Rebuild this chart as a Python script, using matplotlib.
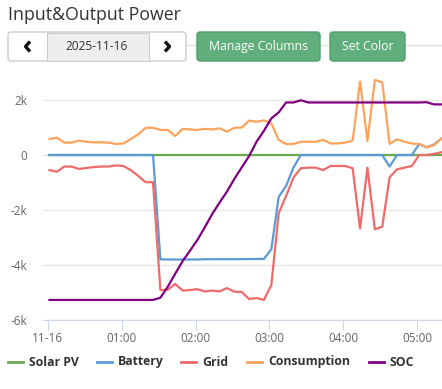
import numpy as np
import matplotlib
matplotlib.use("Agg")
from matplotlib import pyplot as plt
from matplotlib.patches import FancyBboxPatch, Rectangle

plt.rcParams["font.family"] = ["Open Sans", "DejaVu Sans"]

# sample times in minutes after midnight (one reading every 6 min)
minutes = np.arange(54) * 6 + 1.5

solar_pv = [0] * 54
battery = [0, 0, 0, 0, 0, 0, 0, 0, 0, 0, 0, 0, 0, 0, 0,
           -3790, -3800, -3800, -3800, -3800, -3800, -3790, -3790, -3790, -3790,
           -3790, -3785, -3785, -3780, -3780,
           -3430, -1520, -1130, -450, 0, 0, 0, 0, 0, 0, 0, 0, 0, 0, 0, 0,
           -420, 0, 0, 0, 400, 280, 380, 600]
grid = [-550, -610, -420, -420, -510, -470, -440, -420, -420, -380, -400, -550, -760, -990, -990,
        -4910, -4900, -4690, -4930, -4910, -4880, -4960, -4930, -4960, -4840, -4970, -4980,
        -5240, -5200, -5270,
        -4730, -2120, -1490, -820, -480, -460, -460, -550, -400, -400, -400, -480,
        -2670, -460, -2700, -2610, -810, -520, -460, -400, 0, 0, 40, 100]
consumption = [580, 630, 450, 450, 520, 480, 460, 460, 450, 400, 420, 580, 750, 990, 990,
               910, 910, 690, 950, 930, 910, 950, 930, 970, 850, 990, 1000, 1250, 1210, 1260,
               1150, 550, 400, 400, 480, 480, 480, 550, 420, 420, 450, 520,
               2670, 510, 2730, 2640, 400, 570, 480, 420, 400, 280, 360, 600]
soc = [-5270] * 15 + [-5190, -4790, -4320, -3860, -3480, -3090, -2630, -2150, -1730, -1330,
                      -870, -450, -40, 480, 880, 1330, 1550, 1910, 1910, 1990, 1910,
                      1910, 1910, 1910, 1910, 1910, 1910, 1910, 1910, 1910, 1910,
                      1910, 1910, 1910, 1910, 1910, 1920, 1840, 1840]

tick_pos = [0, 60, 120, 180, 240, 300]
tick_lab = ["11-16", "01:00", "02:00", "03:00", "04:00", "05:00"]

W, H = 442, 389
fig = plt.figure(figsize=(W / 100, H / 100), dpi=100)

# ---- chart area
ax = fig.add_axes([42.7 / W, 1 - 320 / H, 1 - 42.7 / W, 244.75 / H])
series = [("Solar PV", solar_pv, "#6aa84f"),
          ("Battery", battery, "#5b9bd5"),
          ("Grid", grid, "#f06a6a"),
          ("Consumption", consumption, "#ffa35c"),
          ("SOC", soc, "#800080")]
for name, vals, col in series:
    ax.plot(minutes, vals, color=col, linewidth=1.6, label=name, solid_joinstyle="round")

ax.set_xlim(-4, 320)
ax.set_ylim(-6000, 2900)
ax.set_yticks([-6000, -4000, -2000, 0, 2000])
ax.set_yticklabels(["-6k", "-4k", "-2k", "0", "2k"])
ax.set_xticks(tick_pos)
ax.set_xticklabels(tick_lab)
ax.grid(axis="y", color="#e6e6e6", linewidth=1)
ax.set_axisbelow(True)
for s in ["top", "right", "left"]:
    ax.spines[s].set_visible(False)
ax.spines["bottom"].set_color("#ccd6eb")
ax.tick_params(axis="y", length=0, pad=11, labelsize=8.5, labelcolor="#666666")
ax.tick_params(axis="x", length=7, color="#ccd6eb", labelsize=8.5, labelcolor="#666666", pad=2)

# ---- header, toolbar and legend drawn in pixel coordinates
ui = fig.add_axes([0, 0, 1, 1], zorder=-1)
ui.set_xlim(0, W)
ui.set_ylim(H, 0)
ui.axis("off")
ui.text(8, 15, "Input&Output Power", fontsize=12.8, color="#333333", va="center", ha="left")
ui.plot([186, W], [44.5, 44.5], color="#e3e3e3", linewidth=1, zorder=0)
ui.add_patch(FancyBboxPatch((8, 32), 178, 29, boxstyle="round,pad=0,rounding_size=3",
                            facecolor="white", edgecolor="#cccccc", linewidth=1, zorder=1))
ui.add_patch(Rectangle((46.5, 32.5), 102, 28, facecolor="#eeeeee", edgecolor="#cccccc",
                       linewidth=0.8, zorder=2))
ui.text(97, 46.5, "2025-11-16", fontsize=8.6, color="#333333", ha="center", va="center", zorder=3)
ui.plot([30, 25.5, 30], [41.5, 46.5, 51.5], color="#111111", linewidth=2.4, zorder=3,
        solid_capstyle="butt")
ui.plot([165, 169.5, 165], [41.5, 46.5, 51.5], color="#111111", linewidth=2.4, zorder=3,
        solid_capstyle="butt")
for x0, w, txt in [(197, 123, "Manage Columns"), (330, 75, "Set Color")]:
    ui.add_patch(FancyBboxPatch((x0, 32), w, 29, boxstyle="round,pad=0,rounding_size=3",
                                facecolor="#5fae7b", edgecolor="#4f9f6b", linewidth=1, zorder=1))
    ui.text(x0 + w / 2, 46.5, txt, fontsize=8.8, color="white", ha="center", va="center", zorder=3)

# legend
legend_x = [8, 97, 181, 247, 369]
for lx, (name, vals, col) in zip(legend_x, series):
    ui.plot([lx, lx + 15], [362, 362], color=col, linewidth=2)
    ui.text(lx + 21, 362, name, fontsize=8.8, fontweight="bold", color="#333333",
            ha="left", va="center")

fig.savefig("out.png", dpi=100)
